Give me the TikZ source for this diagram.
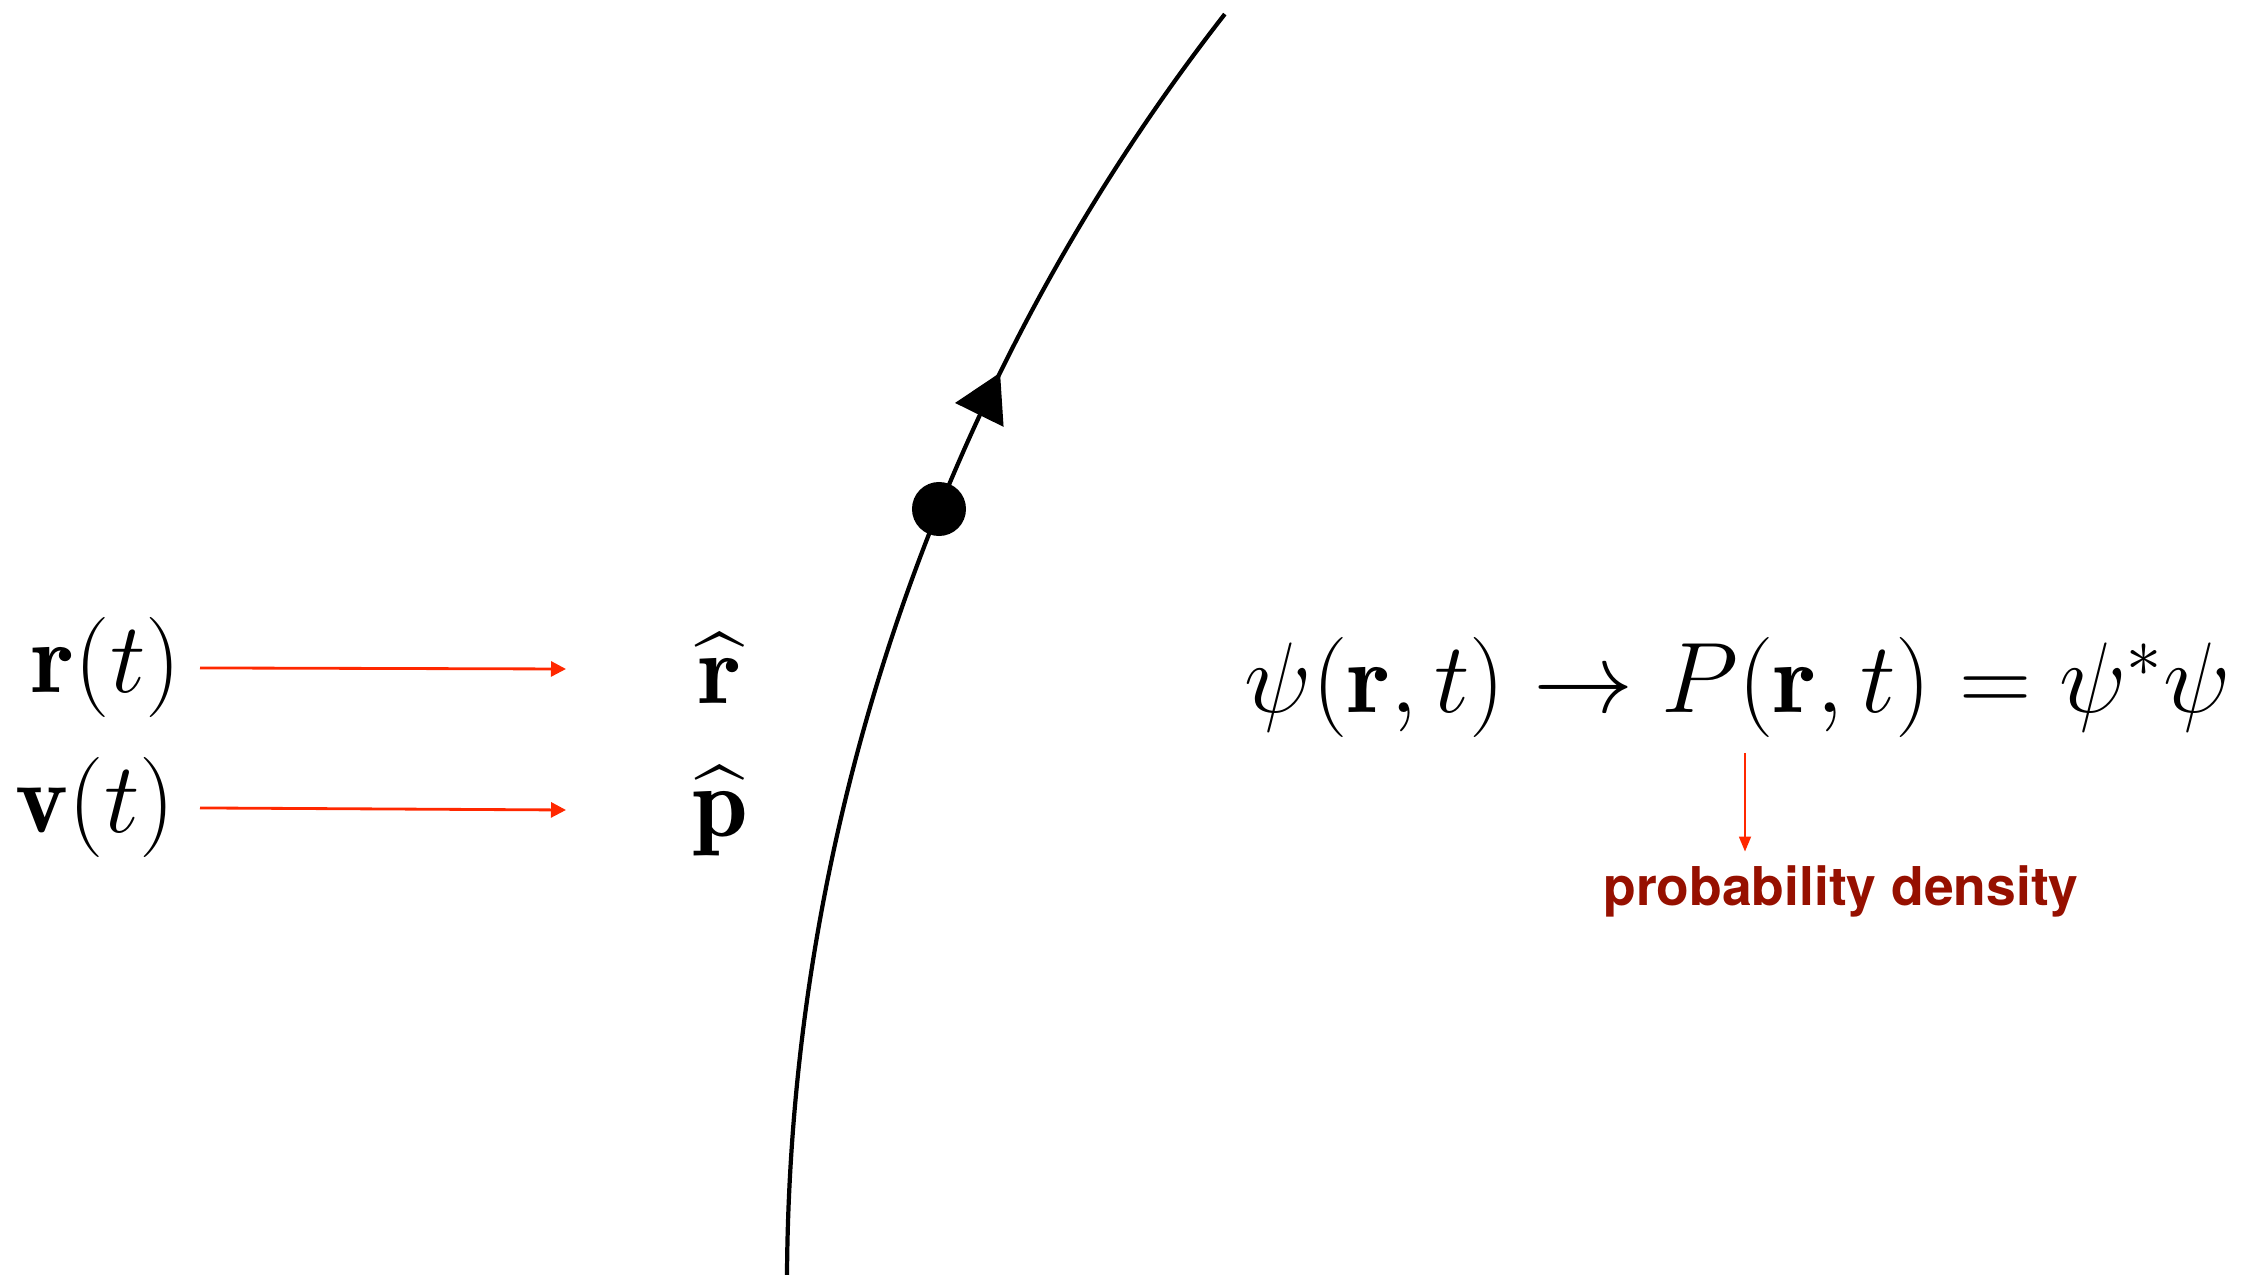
\RequirePackage{fix-cm}
\documentclass[tikz,border=0pt]{standalone}
\usepackage{amsmath}
\usepackage{fontspec}
\newfontfamily\heros{TeX Gyre Heros}
\usetikzlibrary{arrows.meta,decorations.markings}
\definecolor{arrred}{RGB}{255,40,0}
\definecolor{txtred}{RGB}{150,16,0}
\begin{document}
\begin{tikzpicture}[x=0.01cm,y=0.01cm,
  bigmath/.style={inner sep=0pt, font=\fontsize{28.5}{34}\selectfont},
  redarrow/.style={draw=arrred, line width=0.8pt, -{Triangle[length=0.15cm,width=0.15cm]}},
  thinred/.style={draw=arrred, line width=0.5pt, -{Triangle[length=0.15cm,width=0.12cm]}},
  traj/.style={line width=1.2pt, line cap=butt},
  particle/.style={circle, fill=black, minimum size=0.54cm, inner sep=0pt},
  labeltext/.style={inner sep=0pt, text=txtred, font=\heros\bfseries\fontsize{15.2}{18}\selectfont}]
\path[use as bounding box] (0,0) rectangle (2241,1275);

% trajectory (circular arc)
\coordinate (start) at (787,0);
\draw[traj, postaction={decorate}, decoration={markings,
  mark=at position 0.688 with {\arrow{Triangle[length=0.47cm,width=0.53cm]}}}]
  (start) arc[start angle=179.64, end angle=142.06, radius=2072];
\node[particle] (pt) at (939,766) {};

% classical quantities
\node[bigmath, anchor=base west] (rt) at (31,582) {$\mathbf{r}(t)$};
\node[bigmath, anchor=base west] (vt) at (15,442) {$\mathbf{v}(t)$};
\node[bigmath, anchor=base] (rhat) at (720,571) {$\widehat{\mathbf{r}}$};
\node[bigmath, anchor=base] (phat) at (720,438) {$\widehat{\mathbf{p}}$};
\coordinate (re) at (566,606);
\coordinate (pe) at (566,465);
\draw[redarrow] (rt.east -| 200,0) -- (re);
\draw[redarrow] (vt.east -| 200,0) -- (pe);

% wave function
\node[bigmath, anchor=base west] (eq) at (1244,562) {$\psi(\mathbf{r},t)\rightarrow P(\mathbf{r},t)=\psi^{*}\psi$};
\node[labeltext] (dens) at (1841,384) {probability density};
\coordinate (pa) at (1745,522);
\draw[thinred] (pa) -- ([yshift=0.13cm]pa |- dens.north);
\end{tikzpicture}
\end{document}
